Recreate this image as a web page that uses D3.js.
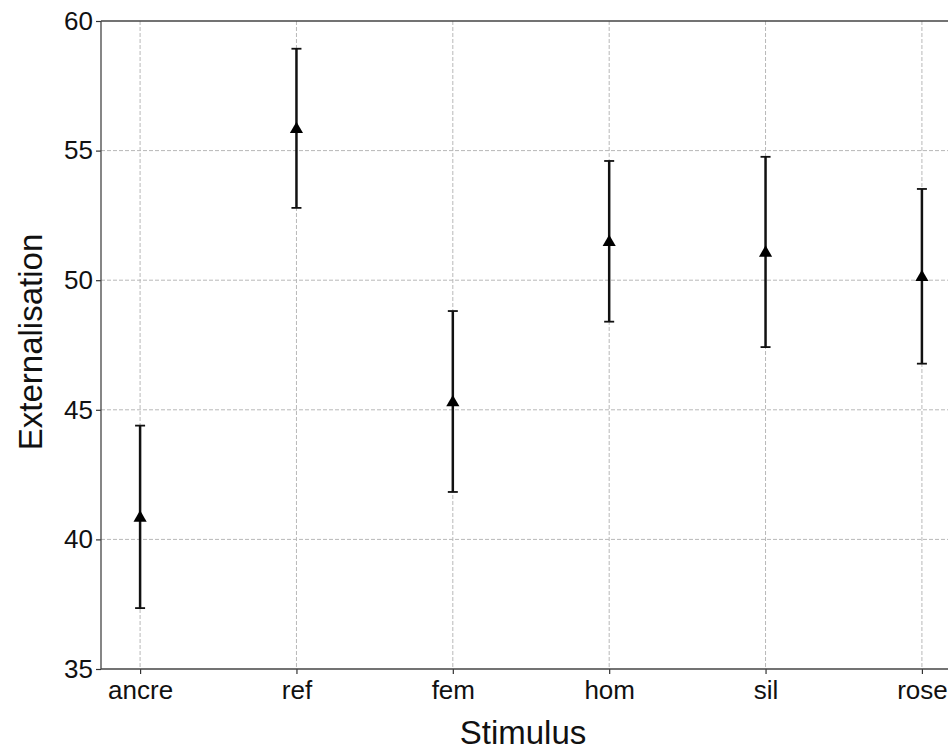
<!DOCTYPE html>
<html><head><meta charset="utf-8">
<script src="https://cdn.jsdelivr.net/npm/d3@7"></script>
<style>body{margin:0;background:#fff}svg{display:block}</style>
</head><body>
<script>
const categories = ["ancre","ref","fem","hom","sil","rose"];
const means = [40.87, 55.86, 45.32, 51.50, 51.09, 50.15];
const errors = [3.52, 3.07, 3.49, 3.10, 3.67, 3.37];
const yTicks = [35, 40, 45, 50, 55, 60];

(function () {
const W = 948, H = 751;
const mLeft = 101, mTop = 21, mBottom = 669, plotW = 860;
const svg = d3.select("body").append("svg").attr("width", W).attr("height", H);

const x = d3.scaleLinear().domain([-0.25, categories.length - 0.75]).range([mLeft, mLeft + plotW]);
const y = d3.scaleLinear().domain([35, 60]).range([mBottom, mTop]);
const font = "'Liberation Sans', Arial, sans-serif";

// grid
const g = svg.append("g");
g.selectAll(".gy").data(yTicks.filter(t => t > 35 && t < 60)).join("line")
  .attr("x1", mLeft).attr("x2", W).attr("y1", d => y(d)).attr("y2", d => y(d))
  .attr("stroke", "#b8b8b8").attr("stroke-width", 1).attr("stroke-dasharray", "4,2");
g.selectAll(".gx").data(categories).join("line")
  .attr("x1", (d, i) => x(i)).attr("x2", (d, i) => x(i)).attr("y1", mTop).attr("y2", mBottom)
  .attr("stroke", "#b8b8b8").attr("stroke-width", 1).attr("stroke-dasharray", "4,2");

// axes
const yAxis = d3.axisLeft(y).tickValues(yTicks).tickSize(5).tickPadding(3);
const ya = svg.append("g").attr("transform", `translate(${mLeft},0)`).call(yAxis);
const xAxis = d3.axisBottom(x).tickValues(d3.range(categories.length)).tickFormat(i => categories[i]).tickSize(5).tickPadding(7);
const xa = svg.append("g").attr("transform", `translate(0,${mBottom})`).call(xAxis);
[ya, xa].forEach(a => {
  a.select(".domain").remove();
  a.selectAll(".tick line").attr("stroke", "#333").attr("stroke-width", 1.2);
  a.selectAll(".tick text").attr("fill", "#111").style("font-family", font).style("font-size", "26px");
});

// spines
svg.append("line").attr("x1", mLeft).attr("x2", mLeft).attr("y1", mTop).attr("y2", mBottom).attr("stroke", "#444").attr("stroke-width", 1.3);
svg.append("line").attr("x1", mLeft).attr("x2", W).attr("y1", mBottom).attr("y2", mBottom).attr("stroke", "#444").attr("stroke-width", 1.3);
svg.append("line").attr("x1", mLeft).attr("x2", W).attr("y1", mTop).attr("y2", mTop).attr("stroke", "#444").attr("stroke-width", 1.3);

// error bars
const eb = svg.append("g").selectAll("g").data(categories).join("g");
eb.append("line").attr("x1", (d, i) => x(i)).attr("x2", (d, i) => x(i))
  .attr("y1", (d, i) => y(means[i] + errors[i])).attr("y2", (d, i) => y(means[i] - errors[i]))
  .attr("stroke", "#111").attr("stroke-width", 2.5);
[1, -1].forEach(s => {
  eb.append("line").attr("x1", (d, i) => x(i) - 5).attr("x2", (d, i) => x(i) + 5)
    .attr("y1", (d, i) => y(means[i] + s * errors[i])).attr("y2", (d, i) => y(means[i] + s * errors[i]))
    .attr("stroke", "#111").attr("stroke-width", 1.8);
});
eb.append("path").attr("d", d3.symbol().type(d3.symbolTriangle).size(75))
  .attr("transform", (d, i) => `translate(${x(i)},${y(means[i]) + 1})`).attr("fill", "#000");

// labels
svg.append("text").attr("x", 523).attr("y", 744).attr("text-anchor", "middle")
  .style("font-family", font).style("font-size", "33px").attr("fill", "#111").text("Stimulus");
svg.append("text").attr("transform", `translate(42,342) rotate(-90)`).attr("text-anchor", "middle")
  .style("font-family", font).style("font-size", "33px").attr("fill", "#111").text("Externalisation");
})();
</script>
</body></html>
